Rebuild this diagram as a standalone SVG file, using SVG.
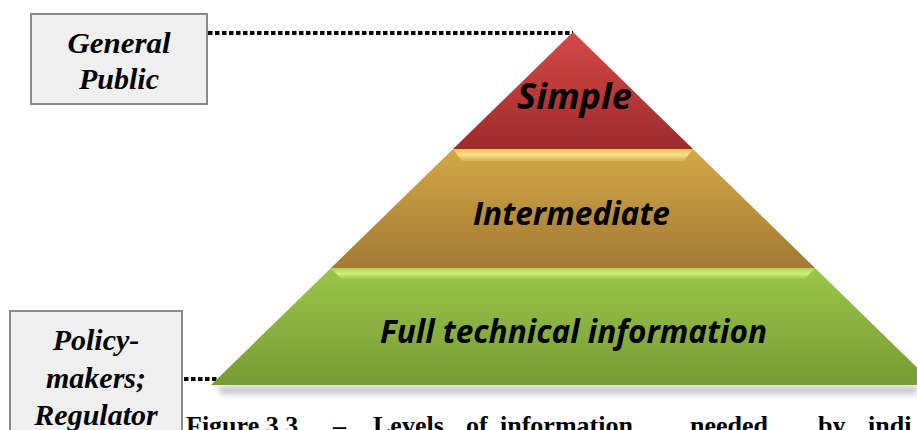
<svg xmlns="http://www.w3.org/2000/svg" width="917" height="430" viewBox="0 0 917 430">
<defs>
<style>
.box{fill:#f0f0f0;stroke:#8a8a8a;stroke-width:2}
.lbl{font-family:"Liberation Serif","Times New Roman",serif;font-weight:bold;font-style:italic;font-size:30px;fill:#000;text-anchor:middle}
.tier{font-family:"Open Sans","Liberation Sans",sans-serif;font-weight:bold;font-style:italic;fill:#000;text-anchor:middle}
.dots{stroke:#000;stroke-width:4;stroke-dasharray:4.5 2.5;fill:none}
.cap{font-family:"Liberation Serif","Times New Roman",serif;font-weight:bold;font-size:26px;fill:#000}
</style>
<linearGradient id="gRed" x1="0" y1="0" x2="0" y2="1">
<stop offset="0" stop-color="#d54848"/><stop offset="1" stop-color="#9e2b2b"/>
</linearGradient>
<linearGradient id="gGold" x1="0" y1="0" x2="0" y2="1">
<stop offset="0" stop-color="#d4a847"/><stop offset="1" stop-color="#a27a33"/>
</linearGradient>
<linearGradient id="gGreen" x1="0" y1="0" x2="0" y2="1">
<stop offset="0" stop-color="#9cc64a"/><stop offset="1" stop-color="#769b34"/>
</linearGradient>
<linearGradient id="gGoldHi" x1="0" y1="0" x2="0" y2="1">
<stop offset="0" stop-color="#e9c25a"/><stop offset="0.5" stop-color="#f8e08a"/><stop offset="1" stop-color="#d6ad4c"/>
</linearGradient>
<linearGradient id="gGreenHi" x1="0" y1="0" x2="0" y2="1">
<stop offset="0" stop-color="#a8d44e"/><stop offset="0.5" stop-color="#cdf07a"/><stop offset="1" stop-color="#9dc84a"/>
</linearGradient>
<filter id="blur" x="-10%" y="-50%" width="120%" height="200%">
<feGaussianBlur stdDeviation="3"/>
</filter>
</defs>

<g id="connectors">
<line class="dots" x1="208" y1="33" x2="573" y2="33"/>
<line class="dots" x1="184" y1="379" x2="291" y2="379"/>
</g>

<g id="pyramid">
<polygon points="216,386 917,386 917,394 222,394" fill="#9a9a9a" opacity="0.6" filter="url(#blur)"/>
<g id="tier-bottom">
<polygon points="331,268 815,268 935,385 211,385" fill="url(#gGreen)"/>
<polygon points="331,268 815,268 805,279 341,279" fill="url(#gGreenHi)"/>
<text class="tier" x="573.5" y="343" font-size="32" textLength="387" lengthAdjust="spacingAndGlyphs">Full technical information</text>
</g>
<g id="tier-middle">
<polygon points="453,149 693,149 815,268 331,268" fill="url(#gGold)"/>
<polygon points="453,149 693,149 684,161 462,161" fill="url(#gGoldHi)"/>
<text class="tier" x="571.5" y="225" font-size="32" textLength="197" lengthAdjust="spacingAndGlyphs">Intermediate</text>
</g>
<g id="tier-top">
<polygon points="573,32 693,149 453,149" fill="url(#gRed)"/>
<text class="tier" x="574.5" y="109" font-size="36" textLength="115" lengthAdjust="spacingAndGlyphs">Simple</text>
</g>
</g>

<g id="node-general-public">
<rect class="box" x="31" y="14" width="176" height="90"/>
<text class="lbl" x="119" y="53" textLength="103" lengthAdjust="spacingAndGlyphs">General</text>
<text class="lbl" x="119" y="89">Public</text>
</g>

<g id="node-policymakers">
<rect class="box" x="10" y="311" width="172" height="130"/>
<text class="lbl" x="96" y="350">Policy-</text>
<text class="lbl" x="96" y="388">makers;</text>
<text class="lbl" x="96" y="425">Regulator</text>
</g>

<g id="caption">
<text class="cap" x="186" y="434">Figure 3.3</text>
<text class="cap" x="333" y="434">–</text>
<text class="cap" x="373" y="434">Levels</text>
<text class="cap" x="466" y="434">of</text>
<text class="cap" x="500" y="434">information</text>
<text class="cap" x="690" y="434">needed</text>
<text class="cap" x="818" y="434">by</text>
<text class="cap" x="868" y="434">indi</text>
</g>
</svg>
